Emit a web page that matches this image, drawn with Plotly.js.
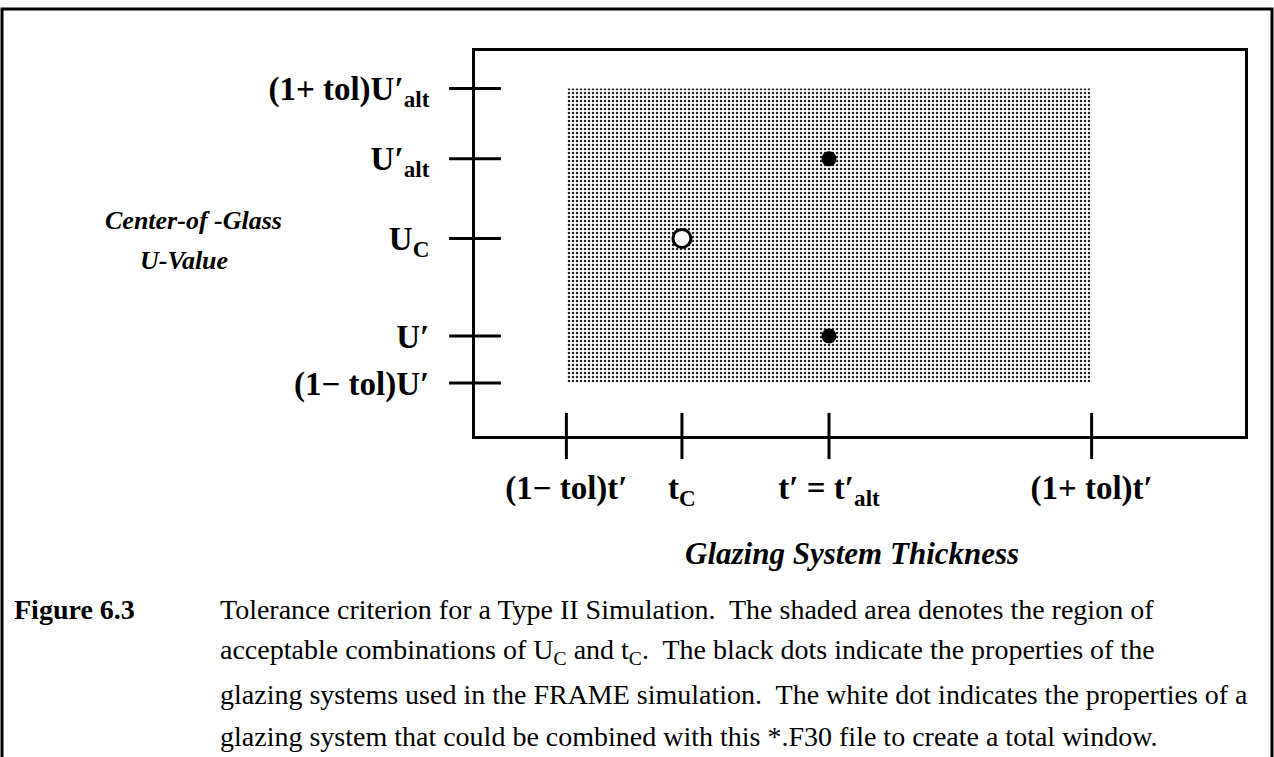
<!DOCTYPE html>
<html>
<head>
<meta charset="utf-8">
<script src="https://cdn.plot.ly/plotly-3.0.1.min.js"></script>
<style>html,body{margin:0;padding:0;background:#fff;}#chart{width:1274px;height:757px;}</style>
</head>
<body>
<div id="chart"></div>
<script>
// ---- chart values (schematic positions) ----
const xTickLabels = ['<b>(1− tol)t′</b>', '<b>t<sub>C</sub></b>', '<b>t′ = t′<sub>alt</sub></b>', '<b>(1+ tol)t′</b>'];
const xTickVals = [0.5, 0.72, 1.0, 1.5];
const yTickLabels = ['<b>(1− tol)U′</b>', '<b>U′</b>', '<b>U<sub>C</sub></b>', '<b>U′<sub>alt</sub></b>', '<b>(1+ tol)U′<sub>alt</sub></b>'];
const yTickVals = [0.87, 1.0, 1.27, 1.49, 1.685];
const xRange = [0.326, 1.792];
const yRange = [0.7234, 1.7884];
// acceptable region: (1-tol)t' .. (1+tol)t'  x  (1-tol)U' .. (1+tol)U'alt
const shadeX = [0.5, 1.5, 1.5, 0.5, 0.5];
const shadeY = [0.87, 0.87, 1.685, 1.685, 0.87];
// glazing systems used in FRAME simulation (black dots)
const blackX = [1.0, 1.0];
const blackY = [1.49, 1.0];
// glazing system that could be combined (white dot)
const whiteX = [0.72];
const whiteY = [1.27];

const captionLines = [
  'Tolerance criterion for a Type II Simulation.  The shaded area denotes the region of',
  'acceptable combinations of U<sub>C</sub> and t<sub>C</sub>.  The black dots indicate the properties of the',
  'glazing systems used in the FRAME simulation.  The white dot indicates the properties of a',
  'glazing system that could be combined with this *.F30 file to create a total window.'
];

const serif = 'Liberation Serif, Times New Roman, serif';

const traces = [
  {
    x: shadeX, y: shadeY, type: 'scatter', mode: 'lines', fill: 'toself',
    line: {width: 0, color: 'rgba(0,0,0,0)'},
    fillcolor: '#ffffff',
    fillpattern: {shape: '.', size: 4, solidity: 0.3, fgcolor: '#222222', bgcolor: '#ffffff'},
    hoverinfo: 'skip', showlegend: false
  },
  {
    x: yTickVals.map(() => xRange[0]), y: yTickVals, type: 'scatter', mode: 'markers',
    marker: {symbol: 'line-ew', size: 37, line: {width: 3, color: '#000'}},
    cliponaxis: false, hoverinfo: 'skip', showlegend: false
  },
  {
    x: xTickVals, y: xTickVals.map(() => yRange[0]), type: 'scatter', mode: 'markers',
    marker: {symbol: 'line-ns', size: 33, line: {width: 3, color: '#000'}},
    cliponaxis: false, hoverinfo: 'skip', showlegend: false
  },
  {
    x: blackX, y: blackY, type: 'scatter', mode: 'markers',
    marker: {symbol: 'circle', size: 15, color: '#000', line: {width: 0}},
    hoverinfo: 'skip', showlegend: false
  },
  {
    x: whiteX, y: whiteY, type: 'scatter', mode: 'markers',
    marker: {symbol: 'circle', size: 18, color: '#fff', line: {width: 3, color: '#000'}},
    hoverinfo: 'skip', showlegend: false
  }
];

const L = 475, R = 29, T = 51, B = 321;
const W = 1274, H = 757;
const pw = W - L - R, ph = H - T - B;
const px = v => (v - L) / pw;          // page pixel -> paper x
const py = v => (H - B - v) / ph;      // page pixel -> paper y

const annotations = [
  {text: '<b><i>Center-of -Glass</i></b>', x: px(193), y: py(220), xref: 'paper', yref: 'paper',
   xanchor: 'center', yanchor: 'middle', showarrow: false, font: {family: serif, size: 26, color: '#000'}},
  {text: '<b><i>U-Value</i></b>', x: px(184), y: py(260), xref: 'paper', yref: 'paper',
   xanchor: 'center', yanchor: 'middle', showarrow: false, font: {family: serif, size: 26, color: '#000'}},
  {text: '<b><i>Glazing System Thickness</i></b>', x: px(852), y: py(553), xref: 'paper', yref: 'paper',
   xanchor: 'center', yanchor: 'middle', showarrow: false, font: {family: serif, size: 31, color: '#000'}},
  {text: '<b>Figure 6.3</b>', x: px(12), y: py(609), xref: 'paper', yref: 'paper',
   xanchor: 'left', yanchor: 'middle', showarrow: false, font: {family: serif, size: 28, color: '#000'}}
];
captionLines.forEach((t, i) => {
  annotations.push({text: t, x: px(218), y: py(609 + i * 42.5), xref: 'paper', yref: 'paper',
    xanchor: 'left', yanchor: 'middle', showarrow: false, font: {family: serif, size: 28, color: '#000'}});
});

const layout = {
  width: W, height: H,
  margin: {l: L, r: R, t: T, b: B, pad: 0},
  paper_bgcolor: '#fff', plot_bgcolor: '#fff',
  showlegend: false,
  xaxis: {
    range: xRange, showgrid: false, zeroline: false, showline: true, mirror: true,
    linecolor: '#000', linewidth: 3, ticks: '', tickvals: xTickVals, ticktext: xTickLabels,
    ticklabelstandoff: 20, tickfont: {family: serif, size: 33, color: '#000'}, fixedrange: true
  },
  yaxis: {
    range: yRange, showgrid: false, zeroline: false, showline: true, mirror: true,
    linecolor: '#000', linewidth: 3, ticks: '', tickvals: yTickVals, ticktext: yTickLabels,
    ticklabelstandoff: 36, tickfont: {family: serif, size: 33, color: '#000'}, fixedrange: true
  },
  shapes: [
    {type: 'rect', xref: 'paper', yref: 'paper', x0: px(2), x1: px(1272), y0: py(790), y1: py(9),
     line: {color: '#000', width: 3}, fillcolor: 'rgba(0,0,0,0)', layer: 'above'}
  ],
  annotations: annotations
};

Plotly.newPlot('chart', traces, layout, {displayModeBar: false, staticPlot: true});
</script>
</body>
</html>
